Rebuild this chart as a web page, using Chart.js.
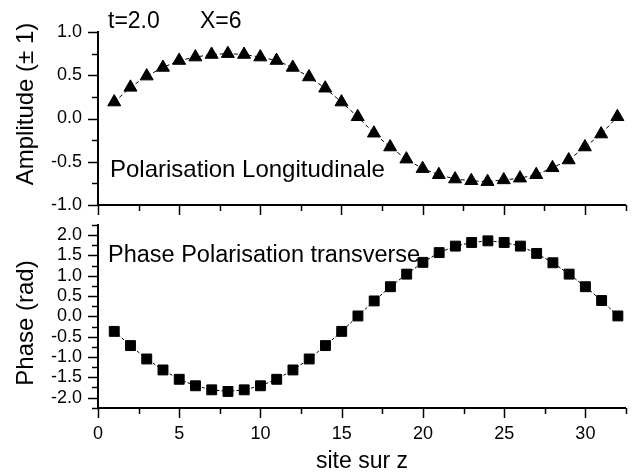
<!DOCTYPE html>
<html>
<head>
<meta charset="utf-8">
<script src="https://cdn.jsdelivr.net/npm/chart.js@4.4.0/dist/chart.umd.min.js"></script>
<style>
  html, body { margin: 0; padding: 0; background: #fff; overflow: hidden; }
  #wrap { position: relative; width: 634px; height: 473px; }
  #wrap canvas { position: absolute; left: 0; }
  #topChart { top: 0; }
  #botChart { top: 215px; }
</style>
</head>
<body>
<div id="wrap">
  <canvas id="topChart" width="634" height="222"></canvas>
  <canvas id="botChart" width="634" height="258"></canvas>
</div>
<script>
// site index along z
const sites = [1, 2, 3, 4, 5, 6, 7, 8, 9, 10, 11, 12, 13, 14, 15, 16,
  17, 18, 19, 20, 21, 22, 23, 24, 25, 26, 27, 28, 29, 30, 31, 32];

// longitudinal polarisation amplitude (triangles)
const amplitude = [0.19, 0.36, 0.49, 0.59, 0.67, 0.71, 0.74, 0.75, 0.74, 0.71, 0.67, 0.59, 0.48, 0.35, 0.19, 0.02,
  -0.17, -0.33, -0.47, -0.58, -0.65, -0.70, -0.72, -0.73, -0.71, -0.69, -0.65, -0.57, -0.48, -0.33, -0.18, 0.02];

// transverse polarisation phase in rad (squares)
const phase = [-0.37, -0.72, -1.05, -1.32, -1.55, -1.71, -1.81, -1.85, -1.81, -1.71, -1.55, -1.32, -1.05, -0.72, -0.37, 0.01,
  0.38, 0.73, 1.04, 1.33, 1.57, 1.73, 1.82, 1.86, 1.82, 1.73, 1.55, 1.32, 1.04, 0.73, 0.39, 0.01];

// labelled (major) ticks
const xLabels = [0, 5, 10, 15, 20, 25, 30];
const ampLabels = [-1.0, -0.5, 0.0, 0.5, 1.0];
const phaseLabels = [-2.0, -1.5, -1.0, -0.5, 0.0, 0.5, 1.0, 1.5, 2.0];

const FONT = '"Liberation Sans", Arial, sans-serif';

const isMajor = (list, v) => list.some(l => Math.abs(l - v) < 1e-6);

// no extra room for labels hanging over the ends, keeps the plot box fixed
const noOverhang = s => {
  s.paddingTop = 0;
  s.paddingBottom = 0;
  s.paddingLeft = 0;
  s.paddingRight = 0;
};

// x axis line + outward tick marks, long for labelled values, short for the others
const tickMarks = {
  id: 'tickMarks',
  afterDraw(chart, args, opts) {
    const ctx = chart.ctx;
    const area = chart.chartArea;
    const xs = chart.scales.x;
    const ys = chart.scales.y;
    const base = Math.round(area.bottom);
    ctx.save();
    ctx.setLineDash([]);
    ctx.fillStyle = '#000';
    ctx.fillRect(Math.round(area.left) - 1, base - 1, Math.round(area.right - area.left) + 1, 2);
    ctx.strokeStyle = '#000';
    ctx.lineWidth = 1.5;
    xs.ticks.forEach(t => {
      const px = Math.round(xs.getPixelForValue(t.value)) + 0.5;
      const len = isMajor(xLabels, t.value) ? 10 : 6;
      ctx.beginPath();
      ctx.moveTo(px, base);
      ctx.lineTo(px, base + len);
      ctx.stroke();
    });
    ys.ticks.forEach(t => {
      const py = Math.round(ys.getPixelForValue(t.value)) + 0.5;
      const len = isMajor(opts.majors, t.value) ? 10 : 6;
      ctx.beginPath();
      ctx.moveTo(area.left, py);
      ctx.lineTo(area.left - len, py);
      ctx.stroke();
    });
    ctx.restore();
  }
};

// free text: panel notes and rotated axis titles
const notes = {
  id: 'notes',
  afterDraw(chart, args, opts) {
    const ctx = chart.ctx;
    ctx.save();
    ctx.fillStyle = '#000';
    opts.items.forEach(n => {
      ctx.save();
      ctx.font = n.size + 'px ' + FONT;
      ctx.translate(n.x, n.y);
      if (n.rotate) {
        ctx.rotate(-Math.PI / 2);
        ctx.textAlign = 'center';
        ctx.textBaseline = 'middle';
      } else {
        ctx.textAlign = 'left';
        ctx.textBaseline = 'alphabetic';
      }
      ctx.fillText(n.text, 0, 0);
      ctx.restore();
    });
    ctx.restore();
  }
};

function xScale(showLabels, titleText) {
  return {
    type: 'linear',
    min: 0,
    max: 32.5,
    grid: { display: false, drawTicks: false },
    border: { display: false },
    ticks: {
      display: showLabels,
      stepSize: 2.5,
      autoSkip: false,
      maxRotation: 0,
      padding: 16,
      color: '#000',
      font: { family: FONT, size: 18 },
      callback: v => isMajor(xLabels, v) ? String(v) : ''
    },
    title: {
      display: !!titleText,
      text: titleText || '',
      color: '#000',
      font: { family: FONT, size: 23, lineHeight: 1 },
      padding: { top: 0, bottom: 0 }
    },
    afterFit: s => {
      s.height = showLabels ? 65.3 : 17;
      noOverhang(s);
    }
  };
}

function yScale(min, max, majors) {
  return {
    type: 'linear',
    min: min,
    max: max,
    grid: { display: false, drawTicks: false },
    border: { display: true, color: '#000', width: 2 },
    ticks: {
      stepSize: 0.25,
      autoSkip: false,
      padding: 16,
      color: '#000',
      font: { family: FONT, size: 18 },
      callback: v => isMajor(majors, v) ? v.toFixed(1) : ''
    },
    afterFit: s => {
      s.width = 98;
      noOverhang(s);
    }
  };
}

new Chart(document.getElementById('topChart'), {
  type: 'line',
  data: {
    labels: sites,
    datasets: [{
      data: sites.map((s, i) => ({ x: s, y: amplitude[i] })),
      borderColor: '#000',
      borderWidth: 1,
      borderDash: [4, 3],
      pointStyle: 'triangle',
      pointRadius: 7.5,
      pointBackgroundColor: '#000',
      pointBorderColor: '#000',
      pointBorderWidth: 1,
      clip: false
    }]
  },
  options: {
    responsive: false,
    animation: false,
    devicePixelRatio: 1,
    layout: { padding: { top: 32, right: 1, left: 0, bottom: 0 } },
    plugins: {
      legend: { display: false },
      tooltip: { enabled: false },
      tickMarks: { majors: ampLabels },
      notes: {
        items: [
          { text: 't=2.0', x: 108, y: 28, size: 23 },
          { text: 'X=6', x: 200, y: 28, size: 23 },
          { text: 'Polarisation Longitudinale', x: 110, y: 176.5, size: 24 },
          { text: 'Amplitude (\u00b1 1)', x: 26, y: 104, size: 24, rotate: true }
        ]
      }
    },
    scales: {
      x: xScale(false, ''),
      y: yScale(-1, 1, ampLabels)
    }
  },
  plugins: [tickMarks, notes]
});

new Chart(document.getElementById('botChart'), {
  type: 'line',
  data: {
    labels: sites,
    datasets: [{
      data: sites.map((s, i) => ({ x: s, y: phase[i] })),
      borderColor: '#000',
      borderWidth: 1,
      borderDash: [3, 2],
      pointStyle: 'rect',
      pointRadius: 7,
      pointBackgroundColor: '#000',
      pointBorderColor: '#000',
      pointBorderWidth: 1,
      clip: false
    }]
  },
  options: {
    responsive: false,
    animation: false,
    devicePixelRatio: 1,
    layout: { padding: { top: 10, right: 1, left: 0, bottom: 0 } },
    plugins: {
      legend: { display: false },
      tooltip: { enabled: false },
      tickMarks: { majors: phaseLabels },
      notes: {
        items: [
          { text: 'Phase Polarisation transverse', x: 108, y: 46.5, size: 23.5 },
          { text: 'Phase (rad)', x: 26, y: 108, size: 24, rotate: true }
        ]
      }
    },
    scales: {
      x: xScale(true, 'site sur z'),
      y: yScale(-2.25, 2.25, phaseLabels)
    }
  },
  plugins: [tickMarks, notes]
});
</script>
</body>
</html>
